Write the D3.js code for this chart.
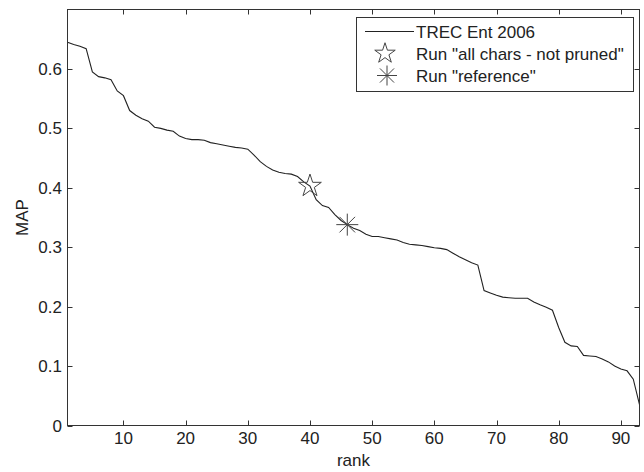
<!DOCTYPE html>
<html>
<head>
<meta charset="utf-8">
<script src="https://cdn.jsdelivr.net/npm/d3@7"></script>
<style>
  body { margin: 0; background: #fff; }
  svg text { font-family: "Liberation Sans", Arial, sans-serif; fill: #222; }
</style>
</head>
<body>
<svg id="chart" width="644" height="472"></svg>
<script>
// MAP per rank, TREC Ent 2006 runs
const mapValues = [
  0.645, 0.641, 0.638, 0.634, 0.595, 0.587, 0.585, 0.582, 0.563, 0.555,
  0.530, 0.522, 0.516, 0.512, 0.502, 0.500, 0.497, 0.495, 0.487, 0.483,
  0.481, 0.481, 0.480, 0.476, 0.474, 0.472, 0.470, 0.468, 0.467, 0.465,
  0.455, 0.444, 0.436, 0.430, 0.426, 0.424, 0.423, 0.419, 0.410, 0.403,
  0.380, 0.370, 0.367, 0.355, 0.345, 0.338, 0.332, 0.328, 0.322, 0.318,
  0.318, 0.316, 0.314, 0.312, 0.308, 0.305, 0.304, 0.303, 0.301, 0.299,
  0.298, 0.296, 0.290, 0.284, 0.279, 0.274, 0.270, 0.227, 0.223, 0.219,
  0.216, 0.215, 0.214, 0.214, 0.214, 0.208, 0.203, 0.199, 0.194, 0.165,
  0.140, 0.134, 0.133, 0.118, 0.117, 0.116, 0.112, 0.107, 0.100, 0.095,
  0.092, 0.078, 0.035,
];
const starRun = { rank: 40, map: 0.403 };
const refRun = { rank: 46, map: 0.338 };

const xTicks = [10, 20, 30, 40, 50, 60, 70, 80, 90];
const yTicks = [0, 0.1, 0.2, 0.3, 0.4, 0.5, 0.6];
const legendLabels = ["TREC Ent 2006", "Run \"all chars - not pruned\"", "Run \"reference\""];

const svg = d3.select("#chart");
const plot = { left: 67.5, right: 639.5, top: 9.5, bottom: 425.5 };
const axisColor = "#333";
const lineColor = "#222";
const fontSize = 17;

const x = d3.scaleLinear().domain([1, mapValues.length]).range([plot.left, plot.right]);
const y = d3.scaleLinear().domain([0, 0.7]).range([plot.bottom, plot.top]);

const points = mapValues.map((v, i) => ({ rank: i + 1, map: v }));

// curve
svg.append("path")
  .datum(points)
  .attr("fill", "none")
  .attr("stroke", lineColor)
  .attr("stroke-width", 1.1)
  .attr("d", d3.line().x((d) => x(d.rank)).y((d) => y(d.map)));

// marker helpers
function drawStar(g, cx, cy, size) {
  g.append("path")
    .attr("d", d3.symbol().type(d3.symbolStar).size(size)())
    .attr("transform", `translate(${cx},${cy})`)
    .attr("fill", "none")
    .attr("stroke", "#444")
    .attr("stroke-width", 1);
}

function drawAsterisk(g, cx, cy, r) {
  const a = g.append("g").attr("transform", `translate(${cx},${cy})`);
  [0, 45, 90, 135].forEach((deg) => {
    const t = (deg * Math.PI) / 180;
    a.append("line")
      .attr("x1", -r * Math.cos(t)).attr("y1", -r * Math.sin(t))
      .attr("x2", r * Math.cos(t)).attr("y2", r * Math.sin(t))
      .attr("stroke", "#444")
      .attr("stroke-width", 1);
  });
}

drawStar(svg, x(starRun.rank), y(starRun.map), 160);
drawAsterisk(svg, x(refRun.rank), y(refRun.map), 11);

// axes box
svg.append("rect")
  .attr("x", plot.left).attr("y", plot.top)
  .attr("width", plot.right - plot.left).attr("height", plot.bottom - plot.top)
  .attr("fill", "none").attr("stroke", axisColor).attr("stroke-width", 1);

const tickLen = 5;
const ticks = svg.append("g").attr("stroke", axisColor).attr("stroke-width", 1);
xTicks.forEach((t) => {
  const px = Math.round(x(t)) + 0.5;
  ticks.append("line").attr("x1", px).attr("x2", px).attr("y1", plot.bottom).attr("y2", plot.bottom - tickLen);
  ticks.append("line").attr("x1", px).attr("x2", px).attr("y1", plot.top).attr("y2", plot.top + tickLen);
});
yTicks.forEach((t) => {
  const py = Math.round(y(t)) + 0.5;
  ticks.append("line").attr("y1", py).attr("y2", py).attr("x1", plot.left).attr("x2", plot.left + tickLen);
  ticks.append("line").attr("y1", py).attr("y2", py).attr("x1", plot.right).attr("x2", plot.right - tickLen);
});

svg.append("g").selectAll("text")
  .data(xTicks).join("text")
  .attr("x", (d) => x(d)).attr("y", 444)
  .attr("text-anchor", "middle")
  .attr("font-size", fontSize)
  .text((d) => d);

svg.append("g").selectAll("text")
  .data(yTicks).join("text")
  .attr("x", 62).attr("y", (d) => y(d) + 6)
  .attr("text-anchor", "end")
  .attr("font-size", fontSize)
  .text((d) => d3.format("")(d));

svg.append("text")
  .attr("x", (plot.left + plot.right) / 2).attr("y", 466)
  .attr("text-anchor", "middle").attr("font-size", fontSize)
  .text("rank");

svg.append("text")
  .attr("transform", `translate(28,${(plot.top + plot.bottom) / 2}) rotate(-90)`)
  .attr("text-anchor", "middle").attr("font-size", fontSize)
  .text("MAP");

// legend
const lg = svg.append("g");
lg.append("rect")
  .attr("x", 356.5).attr("y", 17.5).attr("width", 277).attr("height", 74)
  .attr("fill", "#fff").attr("stroke", axisColor).attr("stroke-width", 1);
const rowsY = [31.5, 53.5, 75.5];
lg.append("line")
  .attr("x1", 365).attr("x2", 414).attr("y1", rowsY[0]).attr("y2", rowsY[0])
  .attr("stroke", lineColor).attr("stroke-width", 1.1);
drawStar(lg, 385, rowsY[1], 130);
drawAsterisk(lg, 387, rowsY[2], 10);
lg.selectAll("text.lab")
  .data(legendLabels).join("text")
  .attr("class", "lab")
  .attr("x", 416).attr("y", (d, i) => rowsY[i] + 6)
  .attr("font-size", fontSize)
  .text((d) => d);
</script>
</body>
</html>
